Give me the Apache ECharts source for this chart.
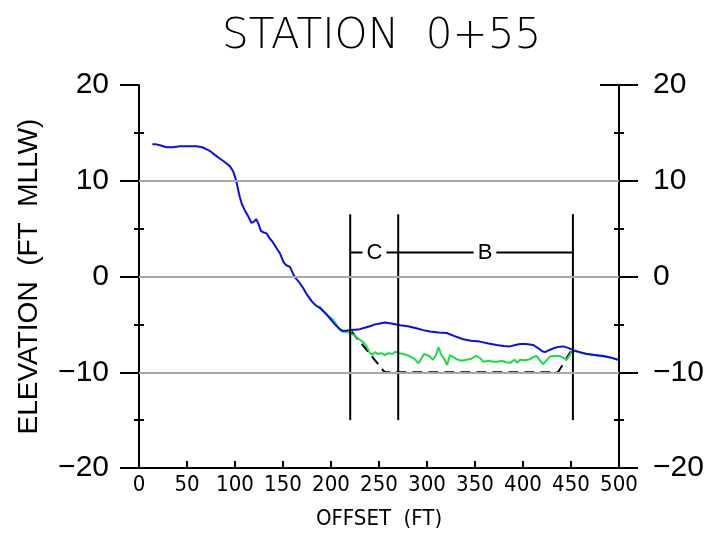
<!DOCTYPE html>
<html>
<head>
<meta charset="utf-8">
<script src="https://cdn.jsdelivr.net/npm/echarts@6/dist/echarts.min.js"></script>
<style>html,body{margin:0;padding:0;background:#fff}#c{width:718px;height:541px}</style>
</head>
<body>
<div id="c"></div>
<script>
// ---- data ----
const titleText = 'STATION  0+55';
const xName = 'OFFSET  (FT)';
const yName = 'ELEVATION  (FT  MLLW)';
const xTicks = [0, 500, 50];          // min, max, interval
const yTicks = [-20, 20, 10];
const minorTickValues = [-15, -5, 5, 15];
const gridValues = [-10, 0, 10];

// measured surface (blue)
const blueOffset = [13.9,18,21.9,28.8,35,42.7,50,55,60,66,70,74,79,84.4,90,94.8,98,101,103,105,107,110,112,114,117,119.5,122,124.5,127,130,133,136,139.9,143,146.9,149,150.3,153,157.3,160,162.5,166,171,175,180,184,188.5,194,199,204,209,213,220,225,230,235,240.6,246,251,256,263,272,280,289,296,303,312,320.5,328,337.8,346,355,364,372.6,380,386.5,392,397,403,410.8,416,420,423,427,431.6,437,442,447,452,459,466,475,483.7,491,499];
const blueElev = [13.8,13.8,13.7,13.5,13.5,13.6,13.6,13.6,13.6,13.5,13.3,13.1,12.7,12.3,11.9,11.5,11.0,10.1,9.2,8.3,7.6,6.95,6.8,6.25,5.6,5.7,6.0,5.5,4.75,4.6,4.5,4.0,3.5,3.0,2.4,1.9,1.55,1.2,1.0,0.4,-0.1,-0.5,-1.2,-1.9,-2.6,-3.0,-3.3,-3.8,-4.4,-5.0,-5.5,-5.7,-5.6,-5.55,-5.5,-5.35,-5.2,-5.0,-4.9,-4.8,-4.9,-5.1,-5.2,-5.4,-5.6,-5.75,-5.85,-5.9,-6.2,-6.55,-6.7,-6.8,-7.0,-7.15,-7.25,-7.3,-7.15,-7.05,-7.05,-7.15,-7.5,-7.8,-7.9,-7.7,-7.5,-7.35,-7.3,-7.45,-7.7,-7.9,-8.1,-8.2,-8.3,-8.45,-8.7];

// survey surface (green)
const greenOffset = [187.8,192,196,202,207,211,216,220,225,230,234,237,240,243,246,249,252,256,260,264,267,271,275,279,283,287,291,294,297,300,303,306,309,312,315,318,321,324,327,331,336,341,346,351,355,359,364,369,373,378,382,387,391,394,397,402,407,411,414,418,421,425,428,433,438,442,445.5,448,451,456,462,468,474,480,486,492,499];
const greenElev = [-3.1,-3.6,-4.0,-4.5,-5.2,-5.75,-5.8,-5.9,-6.2,-6.6,-6.9,-7.3,-7.9,-8.2,-7.9,-8.1,-8.0,-8.2,-8.0,-8.1,-7.85,-8.0,-8.1,-8.2,-8.4,-8.6,-9.05,-8.6,-8.1,-8.2,-8.35,-8.7,-8.3,-7.4,-8.2,-8.6,-9.25,-8.2,-8.4,-8.65,-8.8,-8.7,-8.6,-8.3,-8.5,-8.9,-8.8,-8.9,-8.9,-8.8,-8.95,-9.0,-8.7,-9.0,-8.7,-8.75,-8.65,-8.4,-8.3,-8.8,-9.15,-8.7,-8.35,-8.3,-8.3,-8.5,-8.7,-8.3,-7.8,-7.8,-8.0,-8.1,-8.2,-8.3,-8.35,-8.5,-8.7];

// design template (dashed)
const templateOffset = [221.5, 256, 436.5, 450];
const templateElev = [-5.75, -10, -10, -7.8];

// section boundaries
const sectionOffsets = [220, 270, 452];
const sectionRange = [6.5, -15];
const bracketElev = 2.5;
const bracketLabels = ['C', 'B'];
const bracketLabelOffsets = [245.3, 360.4];

// ---- chart ----
const zip = (a, b) => a.map((v, i) => [v, b[i]]);
const FONT = "'Liberation Sans', Arial, sans-serif";
const LIGHT = "'DejaVu Sans', 'Liberation Sans', sans-serif";
const NARROW = "'Liberation Sans Narrow', 'DejaVu Sans Condensed', 'Liberation Sans', sans-serif";
const minus = v => String(v).replace('-', '\u2212');

function yAx(opts) {
  const base = {
    type: 'value', min: yTicks[0], max: yTicks[1], interval: yTicks[2],
    axisLine: { show: false }, axisLabel: { show: false },
    axisTick: { show: false }, splitLine: { show: false }, minorTick: { show: false }
  };
  return Object.assign(base, opts);
}

const yAxes = [
  yAx({ position: 'left',
    axisLine: { show: true, onZero: false, lineStyle: { color: '#000', width: 2 } },
    axisTick: { show: true, inside: false, length: 19, lineStyle: { color: '#000', width: 2 } },
    axisLabel: { show: true, margin: 30, color: '#000', fontSize: 30, fontFamily: FONT, formatter: minus },
    name: yName, nameLocation: 'middle', nameGap: 96, nameRotate: 90,
    nameTextStyle: { color: '#000', fontSize: 28, fontFamily: FONT }
  }),
  yAx({ position: 'left', axisTick: { show: true, inside: true, length: 5, customValues: minorTickValues, lineStyle: { color: '#000', width: 2 } } }),
  yAx({ position: 'left', axisTick: { show: true, inside: false, length: 5, customValues: minorTickValues, lineStyle: { color: '#000', width: 2 } } }),
  yAx({ position: 'left', axisTick: { show: true, inside: true, length: 19, customValues: gridValues, lineStyle: { color: '#8a8a8a', width: 2 } } }),
  yAx({ position: 'right',
    axisLine: { show: true, onZero: false, lineStyle: { color: '#000', width: 2 } },
    axisTick: { show: true, inside: false, length: 19, lineStyle: { color: '#000', width: 2 } },
    axisLabel: { show: true, margin: 34, color: '#000', fontSize: 30, fontFamily: FONT, formatter: minus }
  }),
  yAx({ position: 'right', axisTick: { show: true, inside: true, length: 5, customValues: minorTickValues, lineStyle: { color: '#000', width: 2 } } }),
  yAx({ position: 'right', axisTick: { show: true, inside: false, length: 5, customValues: minorTickValues, lineStyle: { color: '#000', width: 2 } } }),
  yAx({ position: 'right', axisTick: { show: true, inside: true, length: 19, customValues: gridValues, lineStyle: { color: '#8a8a8a', width: 2 } } }),
  yAx({ position: 'right', axisTick: { show: true, inside: true, length: 19, customValues: [yTicks[1]], lineStyle: { color: '#000', width: 2 } } })
];

const lineBase = { type: 'line', showSymbol: false, symbol: 'none', silent: true, animation: false };

const series = [
  Object.assign({}, lineBase, {
    data: [[0, 0]], lineStyle: { opacity: 0 },
    markLine: { silent: true, symbol: 'none', label: { show: false },
      lineStyle: { color: '#a8a8a8', width: 2, type: 'solid' },
      data: gridValues.map(v => ({ yAxis: v })) }
  }),
  Object.assign({}, lineBase, { data: zip(templateOffset, templateElev), lineStyle: { color: '#000', width: 2, type: [10, 6] } }),
  Object.assign({}, lineBase, { data: zip(greenOffset, greenElev), lineStyle: { color: '#1edc46', width: 2 } }),
  Object.assign({}, lineBase, { data: zip(blueOffset, blueElev), lineStyle: { color: '#0c0cf2', width: 2 } }),
  ...sectionOffsets.map(x => Object.assign({}, lineBase, { data: [[x, sectionRange[0]], [x, sectionRange[1]]], lineStyle: { color: '#000', width: 2 } })),
  Object.assign({}, lineBase, { data: [[sectionOffsets[0], bracketElev], [sectionOffsets[2], bracketElev]], lineStyle: { color: '#000', width: 2 } }),
  { type: 'scatter', silent: true, animation: false, symbolSize: 0, z: 5,
    itemStyle: { opacity: 1 },
    data: bracketLabelOffsets.map((x, i) => ({ value: [x, bracketElev], label: { formatter: bracketLabels[i] } })),
    label: { show: true, position: 'inside', color: '#000', fontSize: 22, fontFamily: FONT,
      backgroundColor: '#fff', padding: [2, 4, 2, 4] } }
];

const chart = echarts.init(document.getElementById('c'), null, { renderer: 'canvas' });
chart.setOption({
  animation: false,
  backgroundColor: '#fff',
  title: { text: titleText, left: 222, top: 16, padding: 0,
    textStyle: { color: '#000', fontSize: 42, fontWeight: 200, fontFamily: LIGHT } },
  grid: { left: 139, right: 99, top: 85, bottom: 73 },
  xAxis: {
    type: 'value', min: xTicks[0], max: xTicks[1], interval: xTicks[2],
    axisLine: { show: true, onZero: false, lineStyle: { color: '#000', width: 2 } },
    axisTick: { show: true, inside: true, length: 7, lineStyle: { color: '#000', width: 2 } },
    axisLabel: { margin: 6, color: '#000', fontSize: 22, fontFamily: NARROW },
    splitLine: { show: false },
    name: xName, nameLocation: 'middle', nameGap: 40,
    nameTextStyle: { color: '#000', fontSize: 22, fontFamily: NARROW }
  },
  yAxis: yAxes,
  series: series
});
</script>
</body>
</html>
